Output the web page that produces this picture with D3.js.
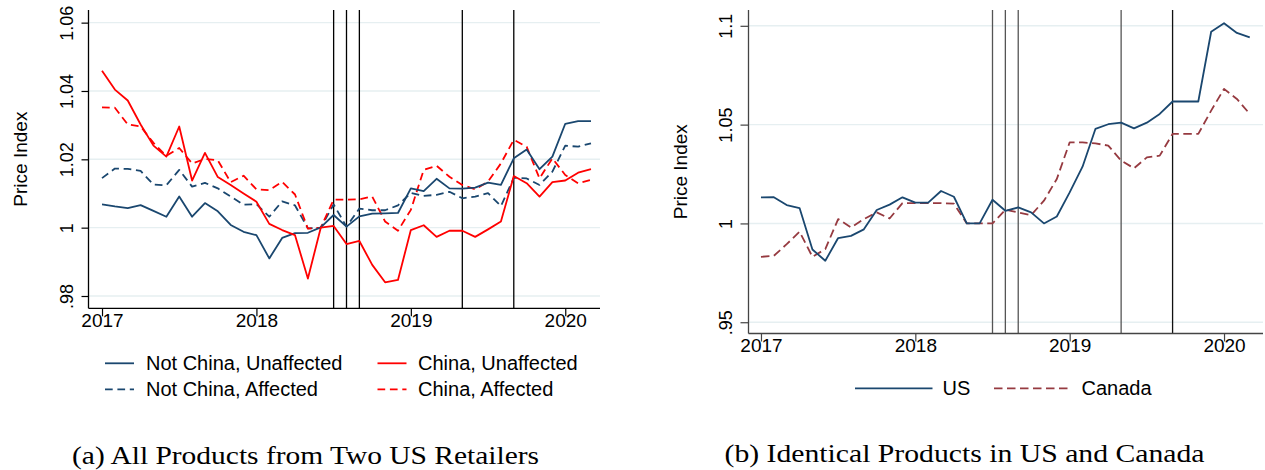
<!DOCTYPE html>
<html>
<head>
<meta charset="utf-8">
<script src="https://cdn.jsdelivr.net/npm/d3@7"></script>
<style>
  html, body { margin: 0; padding: 0; background: #fff; }
  svg { display: block; }
</style>
</head>
<body>
<svg id="chart" width="1265" height="470"></svg>
<script>
// ---------- DATA ----------
const months = ["2017-01","2017-02","2017-03","2017-04","2017-05","2017-06","2017-07","2017-08","2017-09","2017-10","2017-11","2017-12",
  "2018-01","2018-02","2018-03","2018-04","2018-05","2018-06","2018-07","2018-08","2018-09","2018-10","2018-11","2018-12",
  "2019-01","2019-02","2019-03","2019-04","2019-05","2019-06","2019-07","2019-08","2019-09","2019-10","2019-11","2019-12",
  "2020-01","2020-02","2020-03"];
const yearTicks = ["2017-01","2018-01","2019-01","2020-01"];
const yearLabels = ["2017","2018","2019","2020"];
const tariffMonths = ["2018-07","2018-08","2018-09","2019-05","2019-09"];

const notChinaUnaffected = [1.0068,1.0062,1.0057,1.0066,1.0049,1.0032,1.0091,1.0032,1.0072,1.0048,1.0008,0.9988,
  0.9978,0.9910,0.9970,0.9984,0.9985,1.0001,1.0037,1.0003,1.0033,1.0041,1.0042,1.0043,
  1.0115,1.0107,1.0143,1.0115,1.0114,1.0117,1.0132,1.0125,1.0203,1.0229,1.0171,1.0208,
  1.0304,1.0312,1.0312];
const notChinaAffected = [1.0145,1.0173,1.0172,1.0166,1.0126,1.0124,1.0169,1.0120,1.0131,1.0115,1.0091,1.0067,
  1.0069,1.0032,1.0077,1.0065,0.9998,1.0000,1.0068,1.0003,1.0056,1.0051,1.0051,1.0065,
  1.0102,1.0093,1.0096,1.0105,1.0086,1.0091,1.0101,1.0063,1.0146,1.0144,1.0125,1.0164,
  1.0240,1.0237,1.0247];
const chinaUnaffected = [1.0459,1.0404,1.0372,1.0302,1.0240,1.0208,1.0296,1.0138,1.0219,1.0148,1.0125,1.0100,
  1.0076,1.0011,0.9993,0.9978,0.9851,1.0000,1.0005,0.9952,0.9961,0.9891,0.9840,0.9847,
  0.9993,1.0007,0.9973,0.9991,0.9991,0.9973,0.9995,1.0018,1.0151,1.0130,1.0091,1.0133,
  1.0138,1.0161,1.0171];
const chinaAffected = [1.0352,1.0351,1.0302,1.0296,1.0248,1.0210,1.0233,1.0188,1.0201,1.0197,1.0133,1.0152,
  1.0112,1.0110,1.0134,1.0097,0.9997,1.0000,1.0082,1.0082,1.0083,1.0091,1.0018,0.9991,
  1.0052,1.0169,1.0181,1.0149,1.0125,1.0112,1.0135,1.0188,1.0257,1.0237,1.0144,1.0203,
  1.0154,1.0130,1.0140];

const usIndex = [1.0132,1.0133,1.0093,1.0078,0.9868,0.9811,0.9926,0.9937,0.9970,1.0068,1.0095,1.0132,
  1.0105,1.0105,1.0164,1.0135,1.0000,1.0000,1.0120,1.0064,1.0081,1.0056,1.0000,1.0035,
  1.0157,1.0287,1.0478,1.0502,1.0510,1.0481,1.0510,1.0554,1.0617,1.0617,1.0617,1.0970,
  1.1013,1.0964,1.0941];
const canadaIndex = [0.9831,0.9836,0.9895,0.9958,0.9831,0.9870,1.0022,0.9980,1.0022,1.0056,1.0025,1.0103,
  1.0103,1.0103,1.0103,1.0100,1.0000,1.0000,1.0000,1.0069,1.0056,1.0042,1.0115,1.0225,
  1.0410,1.0410,1.0405,1.0394,1.0318,1.0279,1.0334,1.0343,1.0453,1.0453,1.0453,1.0571,
  1.0681,1.0630,1.0554];

const leftYTicks = [0.98, 1, 1.02, 1.04, 1.06];
const leftYLabels = [".98", "1", "1.02", "1.04", "1.06"];
const rightYTicks = [0.95, 1, 1.05, 1.1];
const rightYLabels = [".95", "1", "1.05", "1.1"];

const leftSeriesNames = ["Not China, Unaffected", "Not China, Affected", "China, Unaffected", "China, Affected"];
const rightSeriesNames = ["US", "Canada"];
const captions = ["(a) All Products from Two US Retailers", "(b) Identical Products in US and Canada"];

// ---------- STYLE ----------
const NAVY = "#1a476f", RED = "#ff0000", MAROON = "#963a40", GRID = "#e6eff1";
const SANS = "Liberation Sans, Arial, sans-serif";
const SERIF = "Liberation Serif, Times New Roman, serif";

const svg = d3.select("#chart");
const mIdx = m => months.indexOf(m);

function panel(cfg) {
  const g = svg.append("g");
  const x = d3.scaleLinear().domain(cfg.xDomain).range([cfg.x0, cfg.x1]);
  const y = d3.scaleLinear().domain(cfg.yDomain).range([cfg.y1, cfg.y0]);

  // grid
  g.append("g").selectAll("line").data(cfg.yTicks).join("line")
    .attr("x1", cfg.x0).attr("x2", cfg.x1)
    .attr("y1", d => y(d)).attr("y2", d => y(d))
    .attr("stroke", GRID).attr("stroke-width", 1.4);

  // tariff lines
  g.append("g").selectAll("line").data(tariffMonths).join("line")
    .attr("x1", d => x(mIdx(d))).attr("x2", d => x(mIdx(d)))
    .attr("y1", cfg.y0).attr("y2", cfg.y1)
    .attr("stroke", (d, i) => cfg.vColors[i]).attr("stroke-width", 1.3);

  // series
  const line = d3.line().x((d, i) => x(i)).y(d => y(d));
  cfg.series.forEach(s => {
    g.append("path").datum(s.values)
      .attr("d", line)
      .attr("fill", "none")
      .attr("stroke", s.color)
      .attr("stroke-width", 1.8)
      .attr("stroke-linejoin", "round")
      .attr("stroke-dasharray", s.dash || null);
  });

  // y axis
  const yAxis = d3.axisLeft(y).tickValues(cfg.yTicks)
    .tickFormat((d, i) => cfg.yLabels[i]).tickSize(cfg.tickLen).tickSizeOuter(0);
  const ya = g.append("g").attr("transform", `translate(${cfg.x0},0)`).call(yAxis);
  ya.select(".domain").attr("d", `M0,${cfg.y0}V${cfg.y1}`).attr("stroke", cfg.axisColor).attr("stroke-width", 1.3);
  ya.selectAll(".tick line").attr("stroke", cfg.axisColor).attr("stroke-width", 1.2);
  ya.selectAll(".tick text")
    .attr("transform", "rotate(-90)")
    .attr("x", 0).attr("y", -cfg.yLabelOff).attr("dy", 0)
    .attr("text-anchor", "middle")
    .attr("font-family", SANS).attr("font-size", 18).attr("fill", "#000");

  // x axis
  const xAxis = d3.axisBottom(x).tickValues(yearTicks.map(mIdx))
    .tickFormat((d, i) => yearLabels[i]).tickSize(8).tickSizeOuter(0);
  const xa = g.append("g").attr("transform", `translate(0,${cfg.y1})`).call(xAxis);
  xa.select(".domain").attr("d", `M${cfg.x0},0H${cfg.x1}`).attr("stroke", cfg.axisColor).attr("stroke-width", 1.3);
  xa.selectAll(".tick line").attr("stroke", cfg.axisColor).attr("stroke-width", 1.2);
  xa.selectAll(".tick text").attr("y", 5).attr("dy", "0.71em")
    .attr("font-family", SANS).attr("font-size", 19).attr("fill", "#000");
  xa.selectAll(".tick").lower();
  xa.select(".domain").raise();

  // y title
  g.append("text")
    .attr("transform", `translate(${cfg.titleX},${(cfg.y0 + cfg.y1) / 2}) rotate(-90)`)
    .attr("text-anchor", "middle")
    .attr("font-family", SANS).attr("font-size", 19).attr("fill", "#000")
    .text("Price Index");

  // legend
  cfg.legend.forEach(l => {
    g.append("line")
      .attr("x1", l.lx0).attr("x2", l.lx1).attr("y1", l.ly).attr("y2", l.ly)
      .attr("stroke", l.color).attr("stroke-width", 1.8)
      .attr("stroke-dasharray", l.dash || null);
    g.append("text").attr("x", l.tx).attr("y", l.ly + 6.7)
      .attr("font-family", SANS).attr("font-size", 20).attr("fill", "#000")
      .text(l.name);
  });

  // caption
  g.append("text").attr("x", cfg.capX).attr("y", cfg.capY)
    .attr("font-family", SERIF).attr("font-size", 25).attr("fill", "#000")
    .attr("textLength", cfg.capW).attr("lengthAdjust", "spacingAndGlyphs")
    .text(cfg.caption);
}

const dashA = "7.7,4.7";
const dashB = "8.5,4.5";

panel({
  x0: 88.5, x1: 600, y0: 10, y1: 308.3,
  xDomain: [-1.05, 38.7], yDomain: [0.9764, 1.0637],
  yTicks: leftYTicks, yLabels: leftYLabels, tickLen: 7, yLabelOff: 15.5,
  axisColor: "#000", titleX: 26.5,
  vColors: ["#000", "#000", "#000", "#000", "#000"],
  series: [
    { values: notChinaAffected, color: NAVY, dash: dashA },
    { values: chinaAffected, color: RED, dash: dashA },
    { values: notChinaUnaffected, color: NAVY },
    { values: chinaUnaffected, color: RED }
  ],
  legend: [
    { name: leftSeriesNames[0], color: NAVY, lx0: 105, lx1: 134, ly: 363.3, tx: 146 },
    { name: leftSeriesNames[1], color: NAVY, dash: dashA, lx0: 105, lx1: 134, ly: 389.3, tx: 146 },
    { name: leftSeriesNames[2], color: RED, lx0: 377.5, lx1: 406.5, ly: 363.3, tx: 418 },
    { name: leftSeriesNames[3], color: RED, dash: dashA, lx0: 377.5, lx1: 406.5, ly: 389.3, tx: 418 }
  ],
  caption: captions[0], capX: 72, capY: 464, capW: 467
});

panel({
  x0: 748.5, x1: 1263, y0: 10, y1: 333.5,
  xDomain: [-0.97, 39.03], yDomain: [0.9443, 1.108],
  yTicks: rightYTicks, yLabels: rightYLabels, tickLen: 8, yLabelOff: 17,
  axisColor: "#444", titleX: 686.5,
  vColors: ["#555", "#555", "#555", "#555", "#111"],
  series: [
    { values: canadaIndex, color: MAROON, dash: dashB },
    { values: usIndex, color: NAVY }
  ],
  legend: [
    { name: rightSeriesNames[0], color: NAVY, lx0: 855, lx1: 932.5, ly: 388.3, tx: 942.5 },
    { name: rightSeriesNames[1], color: MAROON, dash: dashB, lx0: 994, lx1: 1071.5, ly: 388.3, tx: 1081.5 }
  ],
  caption: captions[1], capX: 724.5, capY: 462, capW: 480
});
</script>
</body>
</html>
